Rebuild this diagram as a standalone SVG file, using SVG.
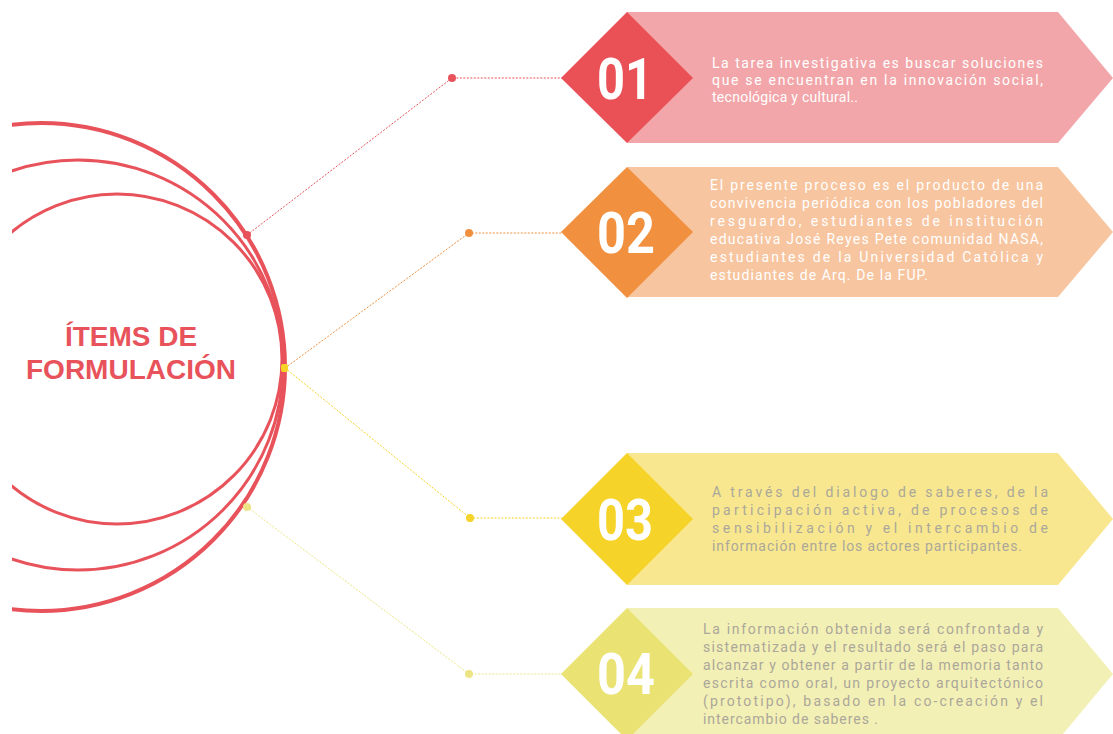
<svg xmlns="http://www.w3.org/2000/svg" width="1113" height="734" viewBox="0 0 1113 734">
<style>
.arc{fill:none;stroke:#E8535B}
.num{font-family:Roboto,"Liberation Sans",sans-serif;font-weight:700;font-size:58px;fill:#fff;text-anchor:middle}
.txt{font-family:Roboto,"Liberation Sans",sans-serif;font-size:14px}
.w{fill:#fff}
.g{fill:#ABA79A}
.title{font-family:"Liberation Sans",Arial,sans-serif;font-weight:700;font-size:28px;fill:#E8535B;text-anchor:middle}
.dash{fill:none;stroke-width:1;stroke-dasharray:2 1.5}
</style>
<defs>
<clipPath id="cl"><rect x="12" y="0" width="400" height="734"/></clipPath>
</defs>
<rect width="1113" height="734" fill="#fff"/>
<g id="center">
<g clip-path="url(#cl)">
<circle class="arc" cx="41" cy="367" r="244" stroke-width="4"/>
<circle class="arc" cx="78" cy="365" r="205" stroke-width="3"/>
<circle class="arc" cx="117" cy="359" r="165" stroke-width="3"/>
</g>
<text class="title" x="131" y="346">ÍTEMS DE</text>
<text class="title" x="131" y="379">FORMULACIÓN</text>
</g>
<g id="connectors">
<polyline class="dash" stroke="#E8535B" points="247,235 452,78 562,78"/>
<polyline class="dash" stroke="#F0903F" points="285,368 469,233 562,233"/>
<polyline class="dash" stroke="#F5D327" points="285,368 470,518 562,518"/>
<polyline class="dash" stroke="#EDE585" points="247,507 469,674 562,674"/>
<circle cx="247" cy="235" r="4" fill="#E8535B"/>
<circle cx="452" cy="78" r="4" fill="#E8535B"/>
<circle cx="469" cy="233" r="4" fill="#F0903F"/>
<circle cx="470" cy="518" r="4" fill="#F5D327"/>
<circle cx="469" cy="674" r="4" fill="#EDE585"/>
<circle cx="247" cy="507" r="4" fill="#EDE585"/>
<rect x="281" y="364" width="7" height="8" rx="2" fill="#F5D327"/>
</g>
<g id="item01">
<polygon points="627,12 1058,12 1113,78 1058,143 627,143" fill="#F2A6A9"/>
<polygon points="561,78 627,12 693,78 627,143" fill="#EA5157"/>
<text class="num" x="625" y="99" textLength="56" lengthAdjust="spacingAndGlyphs">01</text>
<text class="txt w" x="712" y="68" textLength="331" lengthAdjust="spacing">La tarea investigativa es buscar soluciones</text>
<text class="txt w" x="712" y="85" textLength="331" lengthAdjust="spacing">que se encuentran en la innovación social,</text>
<text class="txt w" x="712" y="102" textLength="146" lengthAdjust="spacing">tecnológica y cultural..</text>
</g>
<g id="item02">
<polygon points="627,167 1058,167 1113,232 1058,297 627,297" fill="#F7C59F"/>
<polygon points="561,232 627,167 693,232 627,298" fill="#F1903F"/>
<text class="num" x="626" y="253" textLength="58" lengthAdjust="spacingAndGlyphs">02</text>
<text class="txt w" x="710" y="190" textLength="333" lengthAdjust="spacing">El presente proceso es el producto de una</text>
<text class="txt w" x="710" y="208" textLength="333" lengthAdjust="spacing">convivencia periódica con los pobladores del</text>
<text class="txt w" x="710" y="226" textLength="333" lengthAdjust="spacing">resguardo, estudiantes de institución</text>
<text class="txt w" x="710" y="244" textLength="333" lengthAdjust="spacing">educativa José Reyes Pete comunidad NASA,</text>
<text class="txt w" x="710" y="262" textLength="333" lengthAdjust="spacing">estudiantes de la Universidad Católica y</text>
<text class="txt w" x="710" y="280" textLength="218" lengthAdjust="spacing">estudiantes de Arq. De la FUP.</text>
</g>
<g id="item03">
<polygon points="627,453 1058,453 1113,519 1058,585 627,585" fill="#F8E78F"/>
<polygon points="561,519 627,453 693,519 627,585" fill="#F6D328"/>
<text class="num" x="625" y="540" textLength="56" lengthAdjust="spacingAndGlyphs">03</text>
<text class="txt g" x="712" y="497" textLength="336" lengthAdjust="spacing">A través del dialogo de saberes, de la</text>
<text class="txt g" x="712" y="515" textLength="336" lengthAdjust="spacing">participación activa, de procesos de</text>
<text class="txt g" x="712" y="533" textLength="336" lengthAdjust="spacing">sensibilización y el intercambio de</text>
<text class="txt g" x="712" y="551" textLength="310" lengthAdjust="spacing">información entre los actores participantes.</text>
</g>
<g id="item04">
<polygon points="627,608 1058,608 1113,674 1058,740 627,740" fill="#F3F0B5"/>
<polygon points="561,674 627,608 693,674 627,740" fill="#EAE273"/>
<text class="num" x="626" y="694" textLength="58" lengthAdjust="spacingAndGlyphs">04</text>
<text class="txt g" x="703" y="634" textLength="340" lengthAdjust="spacing">La información obtenida será confrontada y</text>
<text class="txt g" x="703" y="652" textLength="340" lengthAdjust="spacing">sistematizada y el resultado será el paso para</text>
<text class="txt g" x="703" y="670" textLength="340" lengthAdjust="spacing">alcanzar y obtener a partir de la memoria tanto</text>
<text class="txt g" x="703" y="688" textLength="340" lengthAdjust="spacing">escrita como oral, un proyecto arquitectónico</text>
<text class="txt g" x="703" y="706" textLength="340" lengthAdjust="spacing">(prototipo), basado en la co-creación y el</text>
<text class="txt g" x="703" y="724" textLength="175" lengthAdjust="spacing">intercambio de saberes .</text>
</g>
</svg>
